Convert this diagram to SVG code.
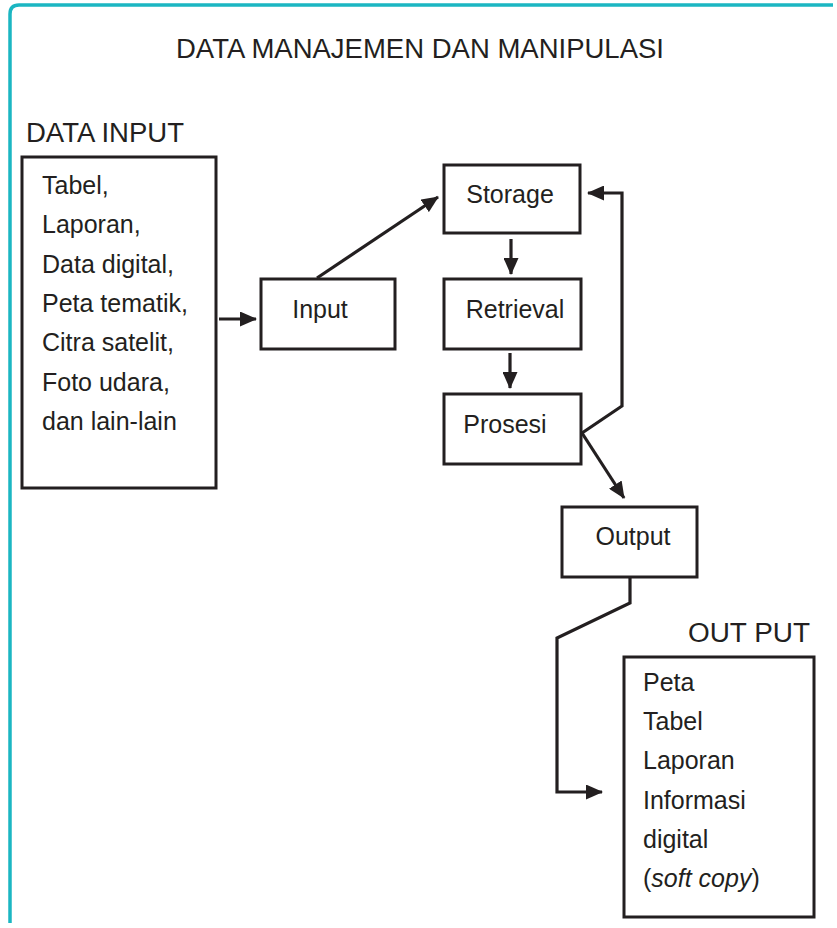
<svg xmlns="http://www.w3.org/2000/svg" width="837" height="928" viewBox="0 0 837 928">
  <style>
    text { font-family: "Liberation Sans", Arial, Helvetica, sans-serif; fill: #231f20; }
    .title { font-size: 27px; }
    .head { font-size: 27px; }
    .lbl { font-size: 25px; }
    .box { fill: #ffffff; stroke: #231f20; stroke-width: 3; }
    .conn { fill: none; stroke: #231f20; stroke-width: 3.2; stroke-linejoin: miter; }
  </style>
  <defs>
    <marker id="ah" viewBox="0 0 17 15" refX="16" refY="7.5" markerWidth="17" markerHeight="15" markerUnits="userSpaceOnUse" orient="auto">
      <path d="M0,0 L17,7.5 L0,15 Z" fill="#231f20"/>
    </marker>
  </defs>
  <rect width="837" height="928" fill="#ffffff"/>

  <g id="frame">
    <path d="M10,923 L10,14 Q10,5 19,5 L833,5" fill="none" stroke="#1bb6c2" stroke-width="3.5"/>
  </g>

  <g id="title">
    <text class="title" x="420" y="58" text-anchor="middle" textLength="488" lengthAdjust="spacingAndGlyphs">DATA MANAJEMEN DAN MANIPULASI</text>
  </g>

  <g id="data-input">
    <text class="head" x="26" y="142" textLength="158" lengthAdjust="spacingAndGlyphs">DATA INPUT</text>
    <rect class="box" x="22" y="157" width="194" height="331"/>
    <text class="lbl" x="42" y="194">Tabel,</text>
    <text class="lbl" x="42" y="233">Laporan,</text>
    <text class="lbl" x="42" y="273">Data digital,</text>
    <text class="lbl" x="42" y="312">Peta tematik,</text>
    <text class="lbl" x="42" y="351">Citra satelit,</text>
    <text class="lbl" x="42" y="391">Foto udara,</text>
    <text class="lbl" x="42" y="430">dan lain-lain</text>
  </g>

  <g id="input">
    <rect class="box" x="261" y="279" width="134" height="70"/>
    <text class="lbl" x="320" y="318" text-anchor="middle">Input</text>
  </g>

  <g id="storage">
    <rect class="box" x="444" y="165" width="136" height="68"/>
    <text class="lbl" x="510" y="203" text-anchor="middle">Storage</text>
  </g>

  <g id="retrieval">
    <rect class="box" x="444" y="279" width="137" height="70"/>
    <text class="lbl" x="515" y="318" text-anchor="middle">Retrieval</text>
  </g>

  <g id="prosesi">
    <rect class="box" x="444" y="394" width="137" height="70"/>
    <text class="lbl" x="505" y="433" text-anchor="middle">Prosesi</text>
  </g>

  <g id="output">
    <rect class="box" x="562" y="507" width="135" height="70"/>
    <text class="lbl" x="633" y="545" text-anchor="middle">Output</text>
  </g>

  <g id="out-put">
    <text class="head" x="688" y="642" textLength="122" lengthAdjust="spacingAndGlyphs">OUT PUT</text>
    <rect class="box" x="624" y="657" width="190" height="260"/>
    <text class="lbl" x="643" y="691">Peta</text>
    <text class="lbl" x="643" y="730">Tabel</text>
    <text class="lbl" x="643" y="769">Laporan</text>
    <text class="lbl" x="643" y="809">Informasi</text>
    <text class="lbl" x="643" y="848">digital</text>
    <text class="lbl" x="643" y="887">(<tspan font-style="italic">soft copy</tspan>)</text>
  </g>

  <g id="connectors">
    <path class="conn" d="M219,319 L256,319" marker-end="url(#ah)"/>
    <path class="conn" d="M317,278 L438,197" marker-end="url(#ah)"/>
    <path class="conn" d="M511,239 L511,274" marker-end="url(#ah)"/>
    <path class="conn" d="M510,353 L510,388" marker-end="url(#ah)"/>
    <path class="conn" d="M582,433 L622,406 L622,193 L588,193" marker-end="url(#ah)"/>
    <path class="conn" d="M582,433 L624,498" marker-end="url(#ah)"/>
    <path class="conn" d="M630,577 L630,603 L557,638 L557,792 L602,792" marker-end="url(#ah)"/>
  </g>
</svg>
